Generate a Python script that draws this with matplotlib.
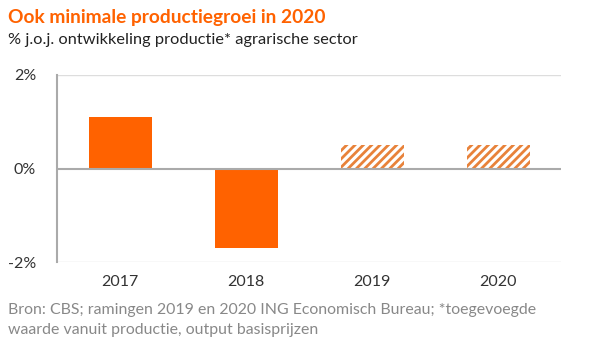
import matplotlib
matplotlib.use("Agg")
import matplotlib.pyplot as plt

plt.rcParams['font.family'] = ['Lato', 'DejaVu Sans']
plt.rcParams['hatch.linewidth'] = 2.0

years = ["2017", "2018", "2019", "2020"]
values = [1.1, -1.7, 0.5, 0.5]
forecast = [False, False, True, True]
yticks = [-2, 0, 2]
ytick_labels = ["-2%", "0%", "2%"]

orange = "#FF6200"
hatch_col = "#E8823A"

fig = plt.figure(figsize=(5.92, 3.52), dpi=100)
ax = fig.add_axes([57/592, 1-262/352, (561-57)/592, (262-75)/352])

x = list(range(len(years)))
for xi, v, f in zip(x, values, forecast):
    if f:
        ax.bar(xi, v, width=0.5, facecolor="white", edgecolor=hatch_col, hatch="////", linewidth=0)
    else:
        ax.bar(xi, v, width=0.5, color=orange, linewidth=0)

ax.set_xlim(-0.5, 3.5)
ax.set_ylim(-2, 2)
ax.set_yticks(yticks)
ax.set_yticklabels(ytick_labels)
ax.set_xticks(x)
ax.set_xticklabels(years)
ax.tick_params(axis='both', length=0, labelsize=11.5, colors="#333333")
ax.tick_params(axis='y', pad=15)
ax.tick_params(axis='x', pad=9)
for s in ["top", "right", "bottom"]:
    ax.spines[s].set_visible(False)
ax.spines["left"].set_color("#AAAAAA")
ax.spines["left"].set_linewidth(1.5)
ax.axhline(2, color="#DDDDDD", lw=1, zorder=0)
ax.axhline(-2, color="#DDDDDD", lw=1, zorder=0)
ax.axhline(0, color="#AAAAAA", lw=1.5, zorder=3)

fig.text(8/592, 1-17/352, "Ook minimale productiegroei in 2020", color=orange,
         fontsize=13.8, fontweight="bold", va="center", ha="left")
fig.text(8/592, 1-40/352, "% j.o.j. ontwikkeling productie* agrarische sector", color="#222222",
         fontsize=11.8, va="center", ha="left")
fig.text(8/592, 1-310/352, "Bron: CBS; ramingen 2019 en 2020 ING Economisch Bureau; *toegevoegde",
         color="#888888", fontsize=11.4, va="center", ha="left")
fig.text(8/592, 1-330/352, "waarde vanuit productie, output basisprijzen",
         color="#888888", fontsize=11.4, va="center", ha="left")

fig.savefig("out.png", dpi=100)
